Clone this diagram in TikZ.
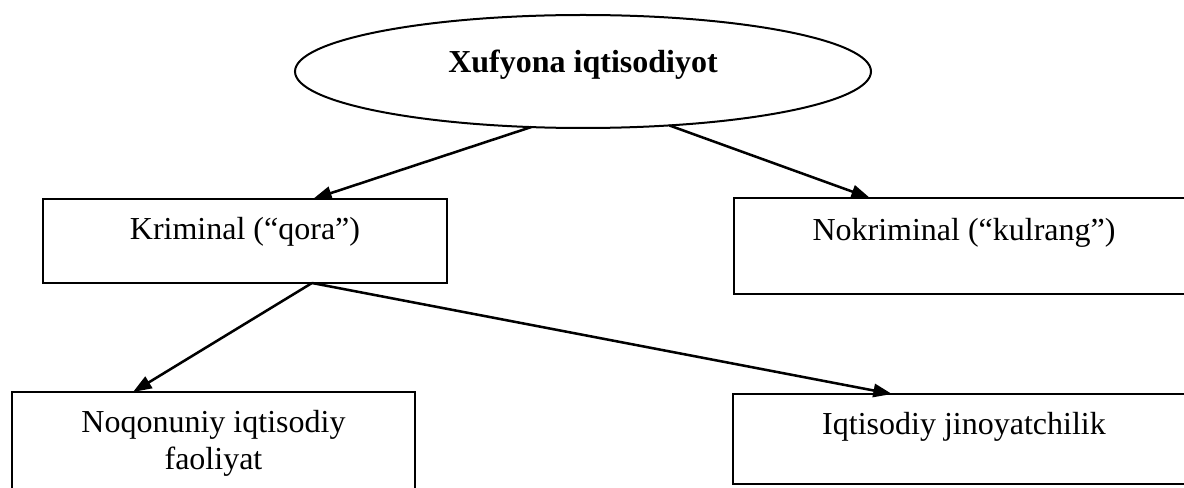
\documentclass[tikz,border=0pt]{standalone}
\usepackage{fontspec}
\setmainfont{Liberation Serif}
\usetikzlibrary{calc,arrows.meta,shapes.geometric}
\begin{document}
\begin{tikzpicture}[x=0.75pt,y=-0.75pt,
  boxshape/.style={draw, line width=1.5pt, rectangle, inner sep=0pt, outer sep=0pt},
  ovalshape/.style={draw, line width=1.5pt, ellipse, inner sep=0pt, outer sep=0pt},
  txt/.style={font=\fontsize{24}{27.7}\selectfont, inner sep=0pt, anchor=base, align=center},
  boldtxt/.style={txt, font=\fontsize{24}{27.7}\selectfont\bfseries},
  conn/.style={line width=1.9pt, -{Triangle[length=14pt,width=10pt]}}]
\useasboundingbox (0,0) rectangle (1184,488);
\clip (0,0) rectangle (1184,488);
% shapes
\node[ovalshape, minimum width=432pt, minimum height=84.75pt] (e) at (583,71.5) {};
\node[boxshape, minimum width=303pt, minimum height=63pt] (k) at (245,241) {};
\node[boxshape, minimum width=345pt, minimum height=72pt] (nk) at (964,246) {};
\node[boxshape, minimum width=302.25pt, minimum height=96pt] (nq) at (213.5,456) {};
\node[boxshape, minimum width=346.5pt, minimum height=67.5pt] (ij) at (964,439) {};
% texts
\node[boldtxt] (et) at (583,73) {Xufyona iqtisodiyot};
\node[txt] (kt) at (245,240) {Kriminal (“qora”)};
\node[txt] (nkt) at (964,241) {Nokriminal (“kulrang”)};
\node[txt] (nqt) at (213.5,469) {Noqonuniy iqtisodiy\\faoliyat};
\node[txt] (ijt) at (964,434) {Iqtisodiy jinoyatchilik};
% connectors
\coordinate (kin) at ($(k.north)+(68,0)$);
\coordinate (nkin) at ($(nk.north)+(-94,0)$);
\coordinate (kout) at ($(k.south)+(67,0)$);
\coordinate (nqin) at ($(nq.north)+(-80.5,0)$);
\coordinate (ijin) at ($(ij.north)+(-72,0)$);
\draw[conn] (e.227.5) -- (kin);
\draw[conn] (e.328.2) -- (nkin);
\draw[conn] (kout) -- (nqin);
\draw[conn] (kout) -- (ijin);
\end{tikzpicture}
\end{document}
